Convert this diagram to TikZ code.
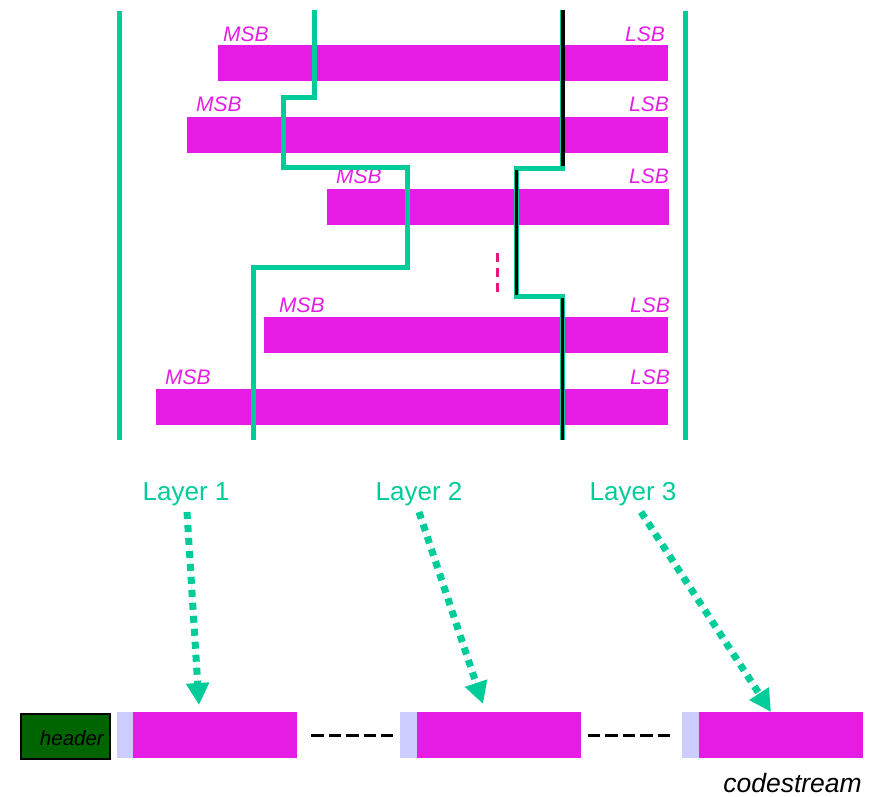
\documentclass[tikz,border=0pt]{standalone}
\usepackage{fontspec}
\setmainfont{Liberation Sans}
\usetikzlibrary{arrows.meta}
\definecolor{mag}{RGB}{230,28,228}
\definecolor{grn}{RGB}{0,204,153}
\definecolor{lav}{RGB}{204,204,255}
\definecolor{hdr}{RGB}{0,100,0}
\definecolor{pinkdash}{RGB}{225,25,125}
\begin{document}
\begin{tikzpicture}[x=1pt,y=-1pt,
  bar/.style={fill=mag, draw=none, rectangle, inner sep=0pt, minimum height=36pt, anchor=north west},
  seg/.style={fill=mag, draw=none, rectangle, inner sep=0pt, minimum height=46pt, minimum width=164pt, anchor=north west},
  lavseg/.style={fill=lav, draw=none, rectangle, inner sep=0pt, minimum height=46pt, minimum width=16.5pt, anchor=north west},
  msb/.style={text=mag, font=\fontsize{21}{21}\selectfont\itshape, inner sep=0pt, anchor=base west},
  lsb/.style={text=mag, font=\fontsize{21}{21}\selectfont\itshape, inner sep=0pt, anchor=base east},
  layerlbl/.style={text=grn, font=\fontsize{26}{26}\selectfont, inner sep=0pt, anchor=base},
  gline/.style={draw=grn, line width=5pt},
  bline/.style={draw=black, line width=3.2pt},
  layerarrow/.style={draw=grn, line width=7pt, dash pattern=on 7pt off 6pt, -{Triangle[length=22pt,width=22pt]}, fill=grn},
  gapdash/.style={draw=black, line width=3pt, dash pattern=on 12.5pt off 5pt}
]
\useasboundingbox (0,0) rectangle (879,796);

% bit-plane bars
\node[bar, minimum width=450pt] (b1) at (218,45) {};
\node[bar, minimum width=481pt] (b2) at (187,117) {};
\node[bar, minimum width=342pt] (b3) at (327,189) {};
\node[bar, minimum width=404pt] (b4) at (264,317) {};
\node[bar, minimum width=512pt] (b5) at (156,389) {};

\node[msb] (m1) at (223,41) {MSB};
\node[lsb] (l1) at (665,41) {LSB};
\node[msb] (m2) at (196,111) {MSB};
\node[lsb] (l2) at (669,111) {LSB};
\node[msb] (m3) at (336,183) {MSB};
\node[lsb] (l3) at (669,183) {LSB};
\node[msb] (m4) at (279,312) {MSB};
\node[lsb] (l4) at (670,312) {LSB};
\node[msb] (m5) at (165,384) {MSB};
\node[lsb] (l5) at (670,384) {LSB};

% borders
\draw[gline] (119,11) -- (119,440);
\draw[gline] (685,11) -- (685,440);

% layer boundaries
\draw[gline] (314,10) -- (314,97) -- (283,97) -- (283,167) -- (407,167) -- (407,267) -- (253,267) -- (253,440);
\draw[gline] (562,10) -- (562,168) -- (516,168) -- (516,296) -- (562,296) -- (562,440);
\draw[bline] (563,10) -- (563,166);
\draw[bline] (516.5,170) -- (516.5,295);
\draw[bline] (562.5,298) -- (562.5,440);

\draw[pinkdash, line width=3pt, dash pattern=on 9pt off 6pt] (497,253) -- (497,297);

% layer labels
\node[layerlbl] (L1) at (186,500) {Layer 1};
\node[layerlbl] (L2) at (419,500) {Layer 2};
\node[layerlbl] (L3) at (633,500) {Layer 3};

% codestream
\node[draw=black, line width=2.2pt, fill=hdr, rectangle, inner sep=0pt, minimum width=89pt, minimum height=45pt, anchor=north west] (hd) at (19.5,712.5) {};
\node[font=\fontsize{20.5}{20.5}\selectfont\itshape, inner sep=0pt, anchor=base east] (hdt) at (104,745) {header};

\node[lavseg] (p1) at (117,712) {};
\node[seg] (s1) at (133,712) {};
\node[lavseg] (p2) at (400,712) {};
\node[seg] (s2) at (416.5,712) {};
\node[lavseg] (p3) at (682,712) {};
\node[seg] (s3) at (698.5,712) {};

\coordinate (d1a) at ([xshift=14pt]s1.east);
\coordinate (d1b) at ([xshift=-7pt]p2.west);
\coordinate (d2a) at ([xshift=7pt]s2.east);
\coordinate (d2b) at ([xshift=-12pt]p3.west);
\draw[gapdash] (d1a) -- (d1b);
\draw[gapdash] (d2a) -- (d2b);

\node[font=\fontsize{26.5}{26.5}\selectfont\itshape, inner sep=0pt, anchor=base east] (cs) at (862,792) {codestream};

% arrows
\coordinate (a1s) at (187,512);
\coordinate (a1e) at (199,705);
\coordinate (a2s) at (419,512);
\coordinate (a2e) at (483,704);
\coordinate (a3s) at (641,512);
\coordinate (a3e) at (771,712);
\draw[layerarrow] (a1s) -- (a1e);
\draw[layerarrow] (a2s) -- (a2e);
\draw[layerarrow] (a3s) -- (a3e);
\end{tikzpicture}
\end{document}
